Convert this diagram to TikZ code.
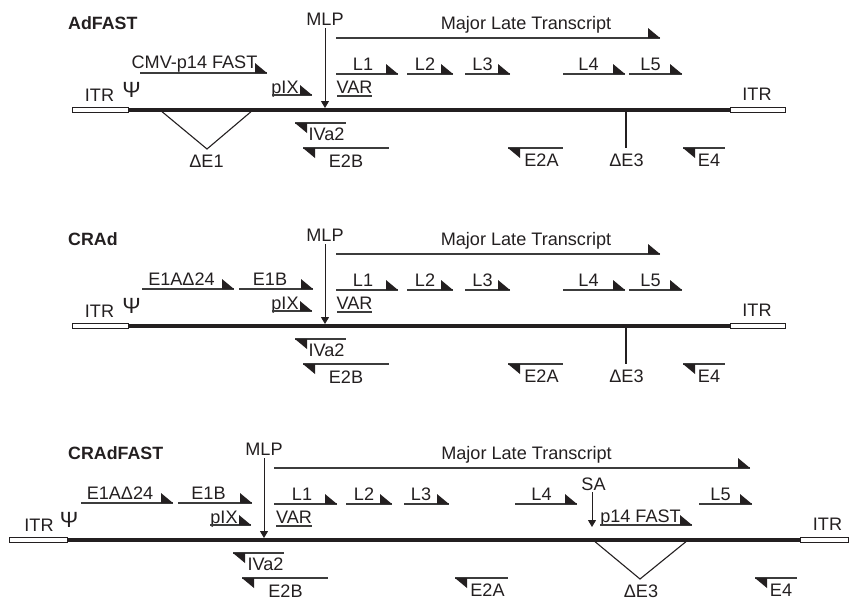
\documentclass[tikz,border=0pt]{standalone}
\usepackage{fontspec}
\setmainfont{Liberation Sans}
\usetikzlibrary{arrows.meta}
\definecolor{ink}{HTML}{231F20}
\definecolor{ln}{HTML}{3C3C3C}
\newcommand\fwdtx[3]{\draw[tx] (#1,#3) -- (#2,#3); \fill[ink] (#2-12,#3) -- (#2,#3) -- (#2-12,#3-10) -- cycle;}
\newcommand\bwdtx[3]{\draw[tx] (#1,#3) -- (#2,#3); \fill[ink] (#1,#3) -- (#1+12,#3) -- (#1+12,#3+10) -- cycle;}
\tikzset{
 lbl/.style={font=\fontsize{18.1}{20}\selectfont, text=ink, inner sep=0pt, anchor=base},
 psil/.style={font=\fontsize{22}{24}\selectfont, text=ink, inner sep=0pt, anchor=base},
 ttl/.style={font=\fontsize{17.8}{20}\selectfont\bfseries, text=ink, inner sep=0pt, anchor=base west},
 tx/.style={draw=ln, line width=1.1pt},
 genome/.style={draw=ink, line width=3.5pt},
 itr/.style={draw=ink, fill=white, line width=0.8pt},
 mlparrow/.style={draw=ink, line width=1pt, -{Triangle[width=8pt,length=7pt]}},
 dline/.style={draw=ink, line width=1.1pt},
}
\begin{document}
\begin{tikzpicture}[x=1pt,y=-1pt]
\useasboundingbox (0,0) rectangle (849,600);

% ================= Panel 1: AdFAST =================
\node[ttl] (t1) at (68,29) {AdFAST};
\draw[genome] (128,110) -- (730,110);
\draw[itr] (72,107.5) rectangle (128,112.5);
\draw[itr] (730,107.5) rectangle (785,112.5);
\node[lbl] (itrL1) at (99.5,101) {ITR};
\node[psil] (psi1) at (131.5,97) {Ψ};
\node[lbl] (itrR1) at (757,100) {ITR};
\node[lbl] (mlp1) at (325,25) {MLP};
\coordinate (mlptip1) at (325,108);
\draw[mlparrow] (325,28) -- (mlptip1);
\node[lbl] (mlt1) at (526,29) {Major Late Transcript};
\fwdtx{336}{660}{38}
\node[lbl] (cmv1) at (194.5,68) {CMV-p14 FAST};
\fwdtx{140}{267}{73}
\node[lbl] (pix1) at (285,93) {pIX};
\fwdtx{272}{312}{95}
\node[lbl] (var1) at (354.5,93) {VAR};
\draw[tx] (337,96) -- (372,96);
\node[lbl] (l11) at (363,70) {L1};
\fwdtx{336}{398}{74}
\node[lbl] (l21) at (425,70) {L2};
\fwdtx{407}{453}{74}
\node[lbl] (l31) at (482.5,70) {L3};
\fwdtx{465}{510}{74}
\node[lbl] (l41) at (588.5,70) {L4};
\fwdtx{563}{625}{74}
\node[lbl] (l51) at (650.5,70) {L5};
\fwdtx{629}{682}{74}
\draw[dline] (160,110) -- (207,149) -- (253,110);
\node[lbl] (de11) at (206.5,167) {ΔE1};
\node[lbl] (iva21) at (326.5,140) {IVa2};
\bwdtx{295}{346}{123}
\node[lbl] (e2b1) at (346,167) {E2B};
\bwdtx{303}{389}{148}
\node[lbl] (e2a1) at (541.5,166) {E2A};
\bwdtx{508}{563}{148}
\draw[dline] (626,110) -- (626,148);
\node[lbl] (de31) at (626.5,166) {ΔE3};
\node[lbl] (e41) at (709,166) {E4};
\bwdtx{683}{725}{148}

% ================= Panel 2: CRAd =================
\begin{scope}[shift={(0,216)}]
\node[ttl] (t2) at (68,29) {CRAd};
\draw[genome] (128,110) -- (730,110);
\draw[itr] (72,107.5) rectangle (128,112.5);
\draw[itr] (730,107.5) rectangle (785,112.5);
\node[lbl] (itrL2) at (99.5,101) {ITR};
\node[psil] (psi2) at (131.5,97) {Ψ};
\node[lbl] (itrR2) at (757,100) {ITR};
\node[lbl] (mlp2) at (325,25) {MLP};
\coordinate (mlptip2) at (325,108);
\draw[mlparrow] (325,28) -- (mlptip2);
\node[lbl] (mlt2) at (526,29) {Major Late Transcript};
\fwdtx{336}{660}{38}
\node[lbl] (e1a2) at (181.5,69) {E1AΔ24};
\fwdtx{142}{234}{73}
\node[lbl] (e1b2) at (270,69) {E1B};
\fwdtx{239}{313}{73}
\node[lbl] (pix2) at (285,93) {pIX};
\fwdtx{272}{312}{95}
\node[lbl] (var2) at (354.5,93) {VAR};
\draw[tx] (337,96) -- (372,96);
\node[lbl] (l12) at (363,70) {L1};
\fwdtx{336}{398}{74}
\node[lbl] (l22) at (425,70) {L2};
\fwdtx{407}{453}{74}
\node[lbl] (l32) at (482.5,70) {L3};
\fwdtx{465}{510}{74}
\node[lbl] (l42) at (588.5,70) {L4};
\fwdtx{563}{625}{74}
\node[lbl] (l52) at (650.5,70) {L5};
\fwdtx{629}{682}{74}
\node[lbl] (iva22) at (326.5,140) {IVa2};
\bwdtx{295}{346}{123}
\node[lbl] (e2b2) at (346,167) {E2B};
\bwdtx{303}{389}{148}
\node[lbl] (e2a2) at (541.5,166) {E2A};
\bwdtx{508}{563}{148}
\draw[dline] (626,110) -- (626,148);
\node[lbl] (de32) at (626.5,166) {ΔE3};
\node[lbl] (e42) at (709,166) {E4};
\bwdtx{683}{725}{148}
\end{scope}

% ================= Panel 3: CRAdFAST =================
\begin{scope}[shift={(0,430)}]
\node[ttl] (t3) at (68,29) {CRAdFAST};
\draw[genome] (67,110) -- (800,110);
\draw[itr] (9,107.5) rectangle (67,112.5);
\draw[itr] (800,107.5) rectangle (848.5,112.5);
\node[lbl] (itrL3) at (39,101) {ITR};
\node[psil] (psi3) at (69,97) {Ψ};
\node[lbl] (itrR3) at (827.5,100) {ITR};
\node[lbl] (mlp3) at (264,25) {MLP};
\coordinate (mlptip3) at (264,108);
\draw[mlparrow] (264,28) -- (mlptip3);
\node[lbl] (mlt3) at (526.5,29) {Major Late Transcript};
\fwdtx{274}{750}{38}
\node[lbl] (e1a3) at (120,69) {E1AΔ24};
\fwdtx{81}{173}{73}
\node[lbl] (e1b3) at (208.5,69) {E1B};
\fwdtx{178}{252}{73}
\node[lbl] (pix3) at (224,93) {pIX};
\fwdtx{210}{251}{95}
\node[lbl] (var3) at (294,93) {VAR};
\draw[tx] (276,96) -- (312,96);
\node[lbl] (l13) at (302,70) {L1};
\fwdtx{274}{337}{74}
\node[lbl] (l23) at (364,70) {L2};
\fwdtx{346}{392}{74}
\node[lbl] (l33) at (421,70) {L3};
\fwdtx{404}{449}{74}
\node[lbl] (l43) at (541.5,70) {L4};
\fwdtx{515}{577}{74}
\node[lbl] (sa3) at (593.5,60) {SA};
\coordinate (satip3) at (592,97);
\draw[mlparrow] (592,62) -- (satip3);
\node[lbl] (p143) at (640.5,92) {p14 FAST};
\fwdtx{600}{692}{95}
\node[lbl] (l53) at (720.5,70) {L5};
\fwdtx{699}{752}{74}
\node[lbl] (iva23) at (265.5,140) {IVa2};
\bwdtx{233}{284}{123}
\node[lbl] (e2b3) at (285.5,167) {E2B};
\bwdtx{242}{328}{148}
\node[lbl] (e2a3) at (487.5,166) {E2A};
\bwdtx{455}{508}{148}
\draw[dline] (593,110) -- (640,149) -- (688,110);
\node[lbl] (de33) at (641,167) {ΔE3};
\node[lbl] (e43) at (781,166) {E4};
\bwdtx{755}{797}{148}
\end{scope}
\end{tikzpicture}
\end{document}
